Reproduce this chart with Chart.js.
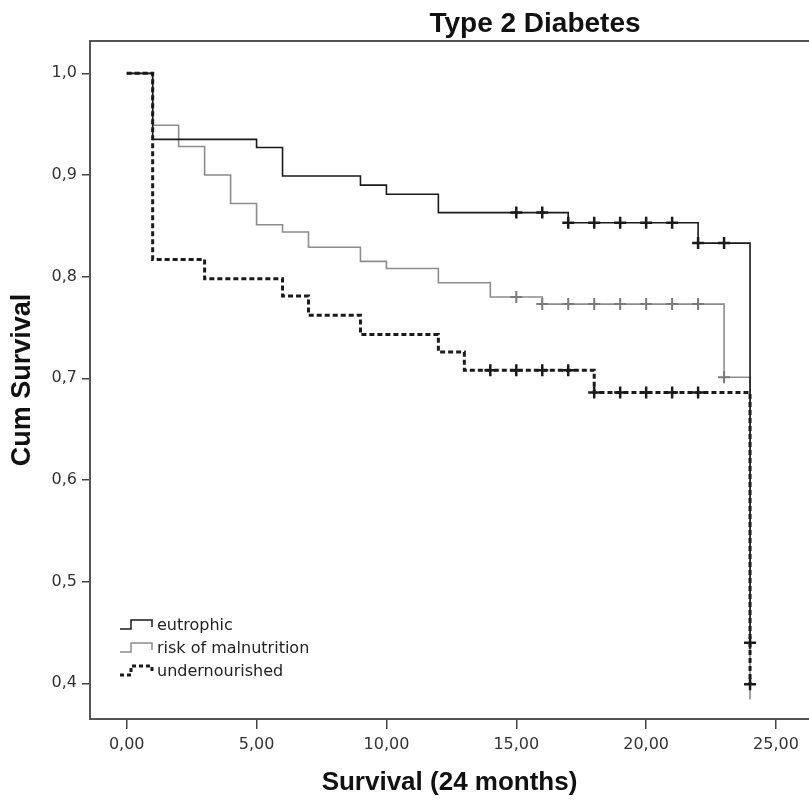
<!DOCTYPE html>
<html>
<head>
<meta charset="utf-8">
<title>Type 2 Diabetes</title>
<script src="https://cdn.jsdelivr.net/npm/chart.js@4.4.1/dist/chart.umd.min.js"></script>
<style>
  html, body { margin: 0; padding: 0; background: #fff; }
  #wrap { width: 809px; height: 803px; }
</style>
</head>
<body>
<div id="wrap"><canvas id="km" width="809" height="803"></canvas></div>
<script>
// Kaplan-Meier steps (time in months, cumulative survival)
const EUTROPHIC_T = [0, 1, 5, 6, 9, 10, 12, 17, 22, 24];
const EUTROPHIC_S = [1, 0.935, 0.927, 0.899, 0.890, 0.881, 0.863, 0.853, 0.833, 0.440];
const EUTROPHIC_CENS_T = [15, 16, 17, 18, 19, 20, 21, 22, 23, 24];
const EUTROPHIC_CENS_S = [0.863, 0.863, 0.853, 0.853, 0.853, 0.853, 0.853, 0.833, 0.833, 0.440];

const RISK_T = [0, 1, 2, 3, 4, 5, 6, 7, 9, 10, 12, 14, 16, 23, 24];
const RISK_S = [1, 0.949, 0.928, 0.900, 0.872, 0.851, 0.844, 0.829, 0.815, 0.808, 0.794, 0.780, 0.773, 0.701, 0.384];
const RISK_CENS_T = [15, 16, 17, 18, 19, 20, 21, 22, 23];
const RISK_CENS_S = [0.780, 0.773, 0.773, 0.773, 0.773, 0.773, 0.773, 0.773, 0.701];

const UNDER_T = [0, 1, 3, 6, 7, 9, 12, 13, 18, 24];
const UNDER_S = [1, 0.817, 0.798, 0.781, 0.762, 0.743, 0.726, 0.708, 0.686, 0.399];
const UNDER_CENS_T = [14, 15, 16, 17, 18, 19, 20, 21, 22, 24];
const UNDER_CENS_S = [0.708, 0.708, 0.708, 0.708, 0.686, 0.686, 0.686, 0.686, 0.686, 0.399];

const LEGEND_LABELS = ['eutrophic', 'risk of malnutrition', 'undernourished'];
const X_TICKS = [0, 5, 10, 15, 20, 25];
const Y_TICKS = [0.4, 0.5, 0.6, 0.7, 0.8, 0.9, 1.0];

const BLACK = '#1a1a1a';
const GREY = '#8c8c8c';
const TICK_FONT = { family: '"DejaVu Sans", sans-serif', size: 16 };
const BOLD_FAMILY = '"Liberation Sans", Arial, sans-serif';

const pts = (xs, ys) => xs.map((x, i) => ({ x, y: ys[i] }));
const comma = (v, d) => v.toFixed(d).replace('.', ',');

// little step icons + labels, SPSS style, bottom-left inside the frame
const kmLegend = {
  id: 'kmLegend',
  afterDraw(chart) {
    const ctx = chart.ctx;
    const styles = [
      { color: BLACK, width: 1.5, dash: [] },
      { color: GREY, width: 1.5, dash: [] },
      { color: BLACK, width: 3, dash: [4, 3] },
    ];
    ctx.save();
    LEGEND_LABELS.forEach((label, i) => {
      const y = 626 + i * 23;
      const s = styles[i];
      ctx.beginPath();
      ctx.strokeStyle = s.color;
      ctx.lineWidth = s.width;
      ctx.setLineDash(s.dash);
      ctx.moveTo(120, y + 3);
      ctx.lineTo(131, y + 3);
      ctx.lineTo(131, y - 6);
      ctx.lineTo(152, y - 6);
      ctx.lineTo(152, y + 1);
      ctx.stroke();
      ctx.setLineDash([]);
      ctx.fillStyle = '#222';
      ctx.font = '16px "DejaVu Sans", sans-serif';
      ctx.textAlign = 'left';
      ctx.textBaseline = 'middle';
      ctx.fillText(label, 157, y);
    });
    ctx.restore();
  }
};

// top frame line and the off-centre title
const frameAndTitle = {
  id: 'frameAndTitle',
  afterDraw(chart) {
    const { ctx, chartArea } = chart;
    ctx.save();
    ctx.strokeStyle = '#555';
    ctx.lineWidth = 2;
    ctx.beginPath();
    ctx.moveTo(chartArea.left, chartArea.top);
    ctx.lineTo(chartArea.right, chartArea.top);
    ctx.stroke();
    ctx.fillStyle = '#111';
    ctx.font = 'bold 28px ' + BOLD_FAMILY;
    ctx.textAlign = 'center';
    ctx.textBaseline = 'middle';
    ctx.fillText('Type 2 Diabetes', 535, 24);
    ctx.restore();
  }
};

const cross = (data, color, w) => ({
  type: 'scatter',
  data,
  showLine: false,
  pointStyle: 'cross',
  pointRadius: 6,
  pointBorderWidth: w,
  pointBorderColor: color,
  pointBackgroundColor: color,
});

new Chart(document.getElementById('km'), {
  type: 'line',
  data: {
    datasets: [
      cross(pts(UNDER_CENS_T, UNDER_CENS_S), BLACK, 2.5),
      cross(pts(EUTROPHIC_CENS_T, EUTROPHIC_CENS_S), BLACK, 2.5),
      cross(pts(RISK_CENS_T, RISK_CENS_S), '#7a7a7a', 2),
      {
        label: 'undernourished', data: pts(UNDER_T, UNDER_S), stepped: true,
        borderColor: BLACK, borderWidth: 3, borderDash: [5, 3], pointRadius: 0, fill: false,
      },
      {
        label: 'eutrophic', data: pts(EUTROPHIC_T, EUTROPHIC_S), stepped: true,
        borderColor: BLACK, borderWidth: 1.6, pointRadius: 0, fill: false,
      },
      {
        label: 'risk of malnutrition', data: pts(RISK_T, RISK_S), stepped: true,
        borderColor: GREY, borderWidth: 1.6, pointRadius: 0, fill: false,
      },
    ]
  },
  options: {
    responsive: false,
    animation: false,
    devicePixelRatio: 1,
    layout: { autoPadding: false, padding: { top: 41, left: 0, right: 0, bottom: 0 } },
    plugins: { legend: { display: false }, title: { display: false }, tooltip: { enabled: false } },
    scales: {
      x: {
        type: 'linear', min: -1.413, max: 26.27,
        afterBuildTicks: s => { s.ticks = X_TICKS.map(v => ({ value: v })); },
        afterFit: s => { s.height = 84; s.paddingLeft = 0; s.paddingRight = 0; },
        grid: { drawOnChartArea: false, drawTicks: true, tickLength: 10, color: '#444', lineWidth: 1.5 },
        border: { display: true, color: '#555', width: 2 },
        ticks: { color: '#333', font: TICK_FONT, padding: 6, maxRotation: 0, callback: v => comma(v, 2) },
        title: { display: true, text: 'Survival (24 months)', color: '#111',
          font: { family: BOLD_FAMILY, size: 26, weight: 'bold' }, padding: { top: 0, bottom: 5 } },
      },
      y: {
        type: 'linear', min: 0.3649, max: 1.0318,
        afterBuildTicks: s => { s.ticks = Y_TICKS.map(v => ({ value: v })); },
        afterFit: s => { s.width = 90; s.paddingTop = 0; s.paddingBottom = 0; },
        grid: { drawOnChartArea: false, drawTicks: true, tickLength: 8, color: '#444', lineWidth: 1.5 },
        border: { display: true, color: '#555', width: 2 },
        ticks: { color: '#333', font: TICK_FONT, padding: 5, callback: v => comma(v, 1) },
        title: { display: true, text: 'Cum Survival', color: '#111',
          font: { family: BOLD_FAMILY, size: 27, weight: 'bold' }, padding: { top: 6, bottom: 0 } },
      }
    }
  },
  plugins: [kmLegend, frameAndTitle]
});
</script>
</body>
</html>
